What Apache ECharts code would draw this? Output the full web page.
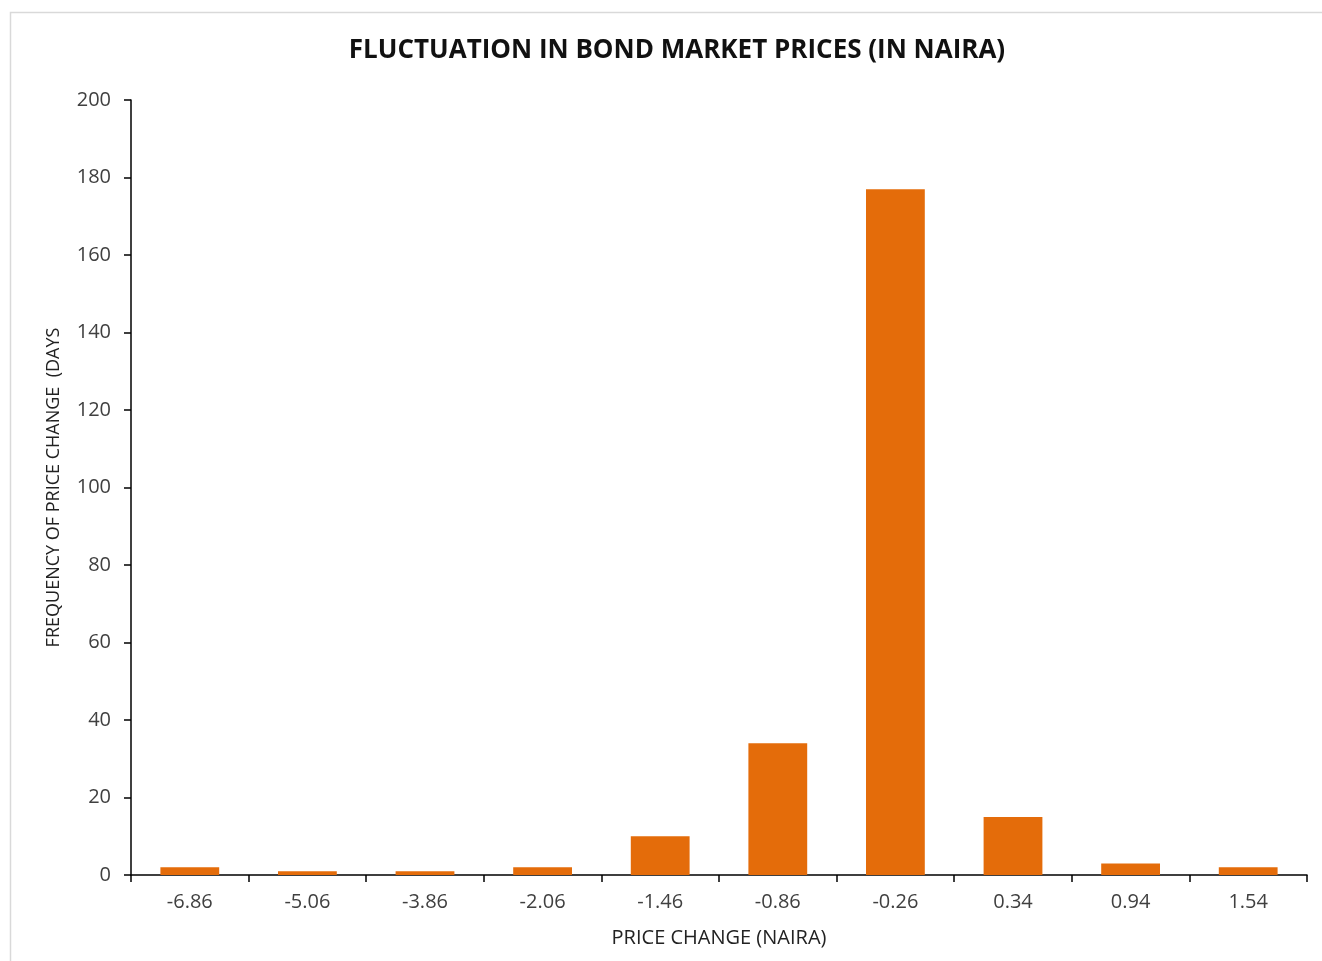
<!DOCTYPE html>
<html>
<head>
<meta charset="utf-8">
<script src="https://cdn.jsdelivr.net/npm/echarts@6/dist/echarts.min.js"></script>
<style>
  html, body { margin: 0; padding: 0; background: #fff; }
  #chart { width: 1322px; height: 961px; }
</style>
</head>
<body>
<div id="chart"></div>
<script>
// price change buckets (naira) and how many days fell in each
const priceChanges = ['-6.86', '-5.06', '-3.86', '-2.06', '-1.46', '-0.86', '-0.26', '0.34', '0.94', '1.54'];
const frequencies = [2, 1, 1, 2, 10, 34, 177, 15, 3, 2];

const FONT = '"Open Sans", "Noto Sans", sans-serif';

const chart = echarts.init(document.getElementById('chart'));

chart.setOption({
  backgroundColor: '#fff',
  animation: false,
  graphic: [{
    type: 'rect',
    shape: { x: 10.5, y: 12.5, width: 1400, height: 1000 },
    style: { fill: 'none', stroke: '#d9d9d9', lineWidth: 1.5 },
    z: -1
  }],
  title: {
    text: 'FLUCTUATION IN BOND MARKET PRICES (IN NAIRA)',
    left: 672,
    textAlign: 'center',
    top: 33,
    textStyle: { fontFamily: FONT, fontSize: 26, fontWeight: 'bold', color: '#111' }
  },
  grid: { left: 131, right: 15, top: 100, bottom: 86 },
  xAxis: {
    type: 'category',
    data: priceChanges,
    name: 'PRICE CHANGE (NAIRA)',
    nameLocation: 'middle',
    nameGap: 53,
    nameTextStyle: { fontFamily: FONT, fontSize: 20, color: '#222' },
    axisLine: { lineStyle: { color: '#000', width: 1.5 } },
    axisTick: { show: true, alignWithLabel: false, length: 7, lineStyle: { color: '#000', width: 1.5 } },
    axisLabel: { fontFamily: FONT, fontSize: 20, color: '#404040', margin: 17 }
  },
  yAxis: {
    type: 'value',
    min: 0,
    max: 200,
    interval: 20,
    name: 'FREQUENCY OF PRICE CHANGE  (DAYS',
    nameLocation: 'middle',
    nameGap: 68,
    nameTextStyle: { fontFamily: FONT, fontSize: 18, color: '#222' },
    splitLine: { show: false },
    axisLine: { show: true, lineStyle: { color: '#000', width: 1.5 } },
    axisTick: { show: true, length: 7, lineStyle: { color: '#000', width: 1.5 } },
    axisLabel: { fontFamily: FONT, fontSize: 20, color: '#404040', margin: 20 }
  },
  series: [{
    type: 'bar',
    data: frequencies,
    barWidth: '50%',
    itemStyle: { color: '#E46C0A' }
  }]
});
</script>
</body>
</html>
